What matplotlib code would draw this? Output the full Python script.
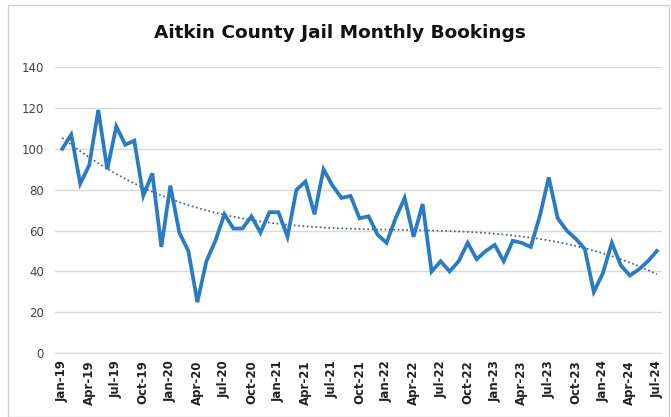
#!/usr/bin/env python

import numpy as np
import matplotlib.pyplot as plt
from matplotlib.patches import Rectangle

# monthly bookings, Jan-19 .. Jul-24
bookings = [
    100, 107, 83, 92, 119, 90, 111, 102, 104, 77, 88, 52,   # 2019
    82, 59, 50, 25, 45, 55, 68, 61, 61, 67, 59, 69,         # 2020
    69, 57, 80, 84, 68, 90, 82, 76, 77, 66, 67, 58,         # 2021
    54, 66, 76, 57, 73, 40, 45, 40, 45, 54, 46, 50,         # 2022
    53, 45, 55, 54, 52, 67, 86, 66, 60, 56, 51, 30,         # 2023
    39, 54, 43, 38, 41, 45, 50,                             # 2024
]
months = ["Jan", "Feb", "Mar", "Apr", "May", "Jun",
          "Jul", "Aug", "Sep", "Oct", "Nov", "Dec"]
labels = [f"{months[i % 12]}-{19 + i // 12}" for i in range(len(bookings))]

x = np.arange(len(bookings))
y = np.array(bookings)

# polynomial trendline like the spreadsheet one
coef = np.polyfit(x, y, 3)
trend = np.polyval(coef, x)

fig = plt.figure(figsize=(6.71, 4.17), dpi=100)
ax = fig.add_axes([0.082, 0.153, 0.905, 0.686])

ax.plot(x, y, color="#2a7bc4", lw=2.7, solid_joinstyle="miter", zorder=3)
ax.plot(x, trend, color="#3a5a80", lw=1.2, ls=(0, (1, 1.6)), zorder=2)

ax.set_xlim(-0.8, 66.6)
ax.set_ylim(0, 140)
ax.set_yticks(range(0, 141, 20))
ax.yaxis.grid(True, color="#d9d9d9", lw=1)
ax.set_axisbelow(True)
for s in ["top", "right", "left"]:
    ax.spines[s].set_visible(False)
ax.spines["bottom"].set_color("#d9d9d9")

ax.set_xticks(x[::3])
ax.set_xticklabels(labels[::3], rotation=90, fontsize=8.5, fontweight="bold", color="#222222")
ax.tick_params(axis="x", length=0, pad=5)
ax.tick_params(axis="y", length=0, pad=8, labelsize=8.5, labelcolor="#444444")

fig.text(0.507, 0.92, "Aitkin County Jail Monthly Bookings", ha="center", va="center",
         fontsize=13.3, fontweight="bold", color="#111111")

fig.patches.append(Rectangle((0.012, 0.0), 0.985, 0.988, transform=fig.transFigure,
                             fill=False, ec="#d0d0d0", lw=1))

fig.savefig("out.png", dpi=100)
